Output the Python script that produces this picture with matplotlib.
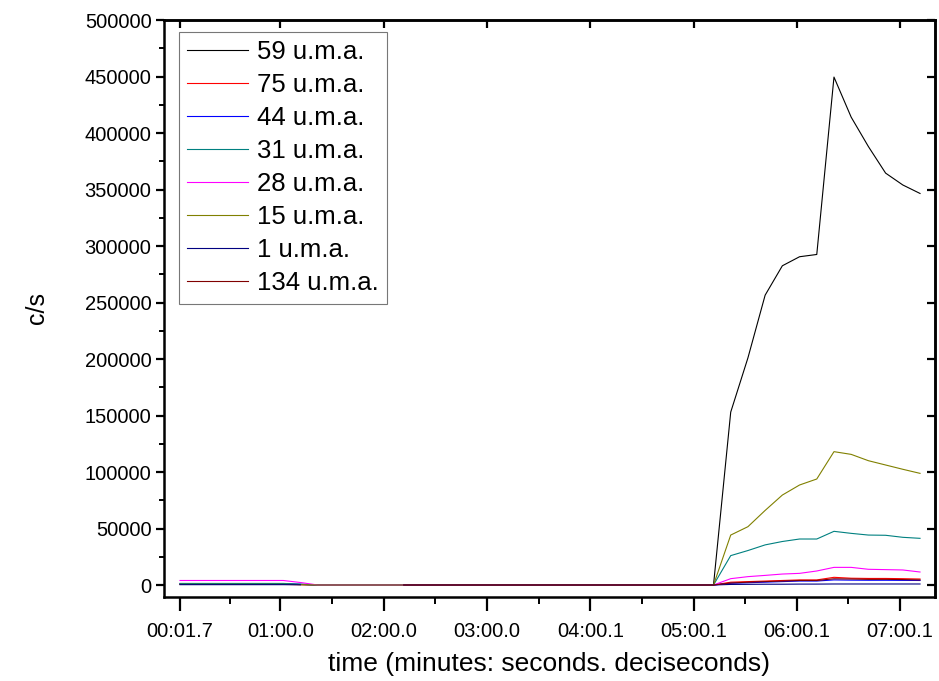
import numpy as np
import matplotlib
matplotlib.use("Agg")
import matplotlib.pyplot as plt
from matplotlib.ticker import FixedLocator, MultipleLocator

plt.rcParams['font.family'] = ['Liberation Sans', 'DejaVu Sans']

nan = np.nan

# sample times (s elapsed); each series shares these instants
time_s = [1.7, 11.7, 21.7, 31.7, 41.7, 51.7, 61.7, 71.7, 81.7, 131.7,
          311.7, 321.7, 331.7, 341.7, 351.7, 361.7, 371.7, 381.7, 391.7,
          401.7, 411.7, 421.7, 431.7]

labels = ['59 u.m.a.', '75 u.m.a.', '44 u.m.a.', '31 u.m.a.',
          '28 u.m.a.', '15 u.m.a.', '1 u.m.a.', '134 u.m.a.']
colors = ['#000000', '#FF0000', '#0000FF', '#008080',
          '#FF00FF', '#808000', '#000080', '#800000']

mz59 = [800, 800, 800, 800, 800, 800, 800, 400, 0, 0,
        0, 153000, 201000, 256500, 282500, 290500, 292500, 449500, 414000,
        388000, 364500, 354000, 346500]
mz75 = [500, 500, 500, 500, 500, 500, 500, 300, 0, 0,
        0, 2500, 3000, 3500, 4000, 4500, 4500, 6800, 6000,
        5800, 5800, 5600, 5300]
mz44 = [1100, 1100, 1100, 1100, 1100, 1100, 1100, 600, 0, 0,
        0, 1500, 2000, 2500, 3000, 3500, 3500, 4500, 4300,
        4200, 4200, 4100, 4000]
mz31 = [1400, 1400, 1400, 1400, 1400, 1400, 1400, 800, 0, 0,
        0, 26000, 30500, 35500, 38500, 40700, 40700, 47500, 45700,
        44200, 44000, 42200, 41300]
mz28 = [4000, 4000, 4000, 4000, 4000, 4000, 4000, 2200, 0, 0,
        0, 5600, 7400, 8500, 9700, 10300, 12400, 15600, 15600,
        13900, 13600, 13300, 11500]
mz15 = [600, 600, 600, 600, 600, 600, 600, 300, 0, 0,
        0, 44200, 51600, 66000, 79600, 88500, 93800, 118000, 115600,
        110000, 106200, 102400, 98800]
mz1 = [300, 300, 300, 300, 300, 300, 300, 200, nan, 0,
       0, 500, 600, 700, 700, 800, 800, 900, 900,
       900, 900, 900, 900]
mz134 = [nan, nan, nan, nan, nan, nan, nan, nan, nan, 0,
         0, 1800, 2500, 3000, 3500, 4000, 4000, 5500, 5300,
         5000, 5000, 4800, 4500]

series = [mz59, mz75, mz44, mz31, mz28, mz15, mz1, mz134]

tick_pos = [1.7, 60.0, 120.0, 180.0, 240.1, 300.1, 360.1, 420.1]
tick_lbl = ['00:01.7', '01:00.0', '02:00.0', '03:00.0',
            '04:00.1', '05:00.1', '06:00.1', '07:00.1']
y_ticks = [0, 50000, 100000, 150000, 200000, 250000,
           300000, 350000, 400000, 450000, 500000]

fig = plt.figure(figsize=(9.39, 6.81), dpi=100)
ax = fig.add_axes([164 / 939, 1 - 597 / 681, (935 - 164) / 939, (597 - 20) / 681])

for vals, lab, col in zip(series, labels, colors):
    ax.plot(time_s, vals, color=col, lw=0.8, label=lab)

ax.set_xlim(-7.6, 440.4)
ax.set_ylim(-10619, 500000)

ax.xaxis.set_major_locator(FixedLocator(tick_pos))
ax.set_xticklabels(tick_lbl)
ax.xaxis.set_minor_locator(FixedLocator([(a + b) / 2 for a, b in zip(tick_pos[:-1], tick_pos[1:])]))
ax.yaxis.set_major_locator(FixedLocator(y_ticks))
ax.yaxis.set_minor_locator(MultipleLocator(25000))

for s in ax.spines.values():
    s.set_linewidth(1.8)

ax.tick_params(axis='both', which='major', direction='out', width=1.6,
               labelsize=14.5)
ax.tick_params(axis='x', which='major', length=10, pad=8)
ax.tick_params(axis='y', which='major', length=6, pad=3)
ax.tick_params(axis='x', which='minor', direction='out', width=1.4, length=5)
ax.tick_params(axis='y', which='minor', direction='out', width=1.4, length=3.5)

top = ax.secondary_xaxis('top')
top.set_xticks(tick_pos)
top.tick_params(direction='in', length=6, width=1.6, labeltop=False)
top.spines['top'].set_linewidth(1.8)
right = ax.secondary_yaxis('right')
right.set_yticks(y_ticks)
right.tick_params(direction='in', length=6, width=1.6, labelright=False)
right.spines['right'].set_linewidth(1.8)

ax.set_xlabel('time (minutes: seconds. deciseconds)', fontsize=19, labelpad=8)
ax.set_ylabel('c/s', fontsize=18, labelpad=26)

leg = ax.legend(loc='upper left', bbox_to_anchor=(0.0195, 0.979),
                borderaxespad=0, fontsize=18.5, frameon=True, fancybox=False,
                handlelength=2.35, handletextpad=0.35, labelspacing=0.35,
                borderpad=0.32)
leg.get_frame().set_edgecolor('#555555')
leg.get_frame().set_linewidth(0.8)

fig.savefig('out.png', dpi=100)
